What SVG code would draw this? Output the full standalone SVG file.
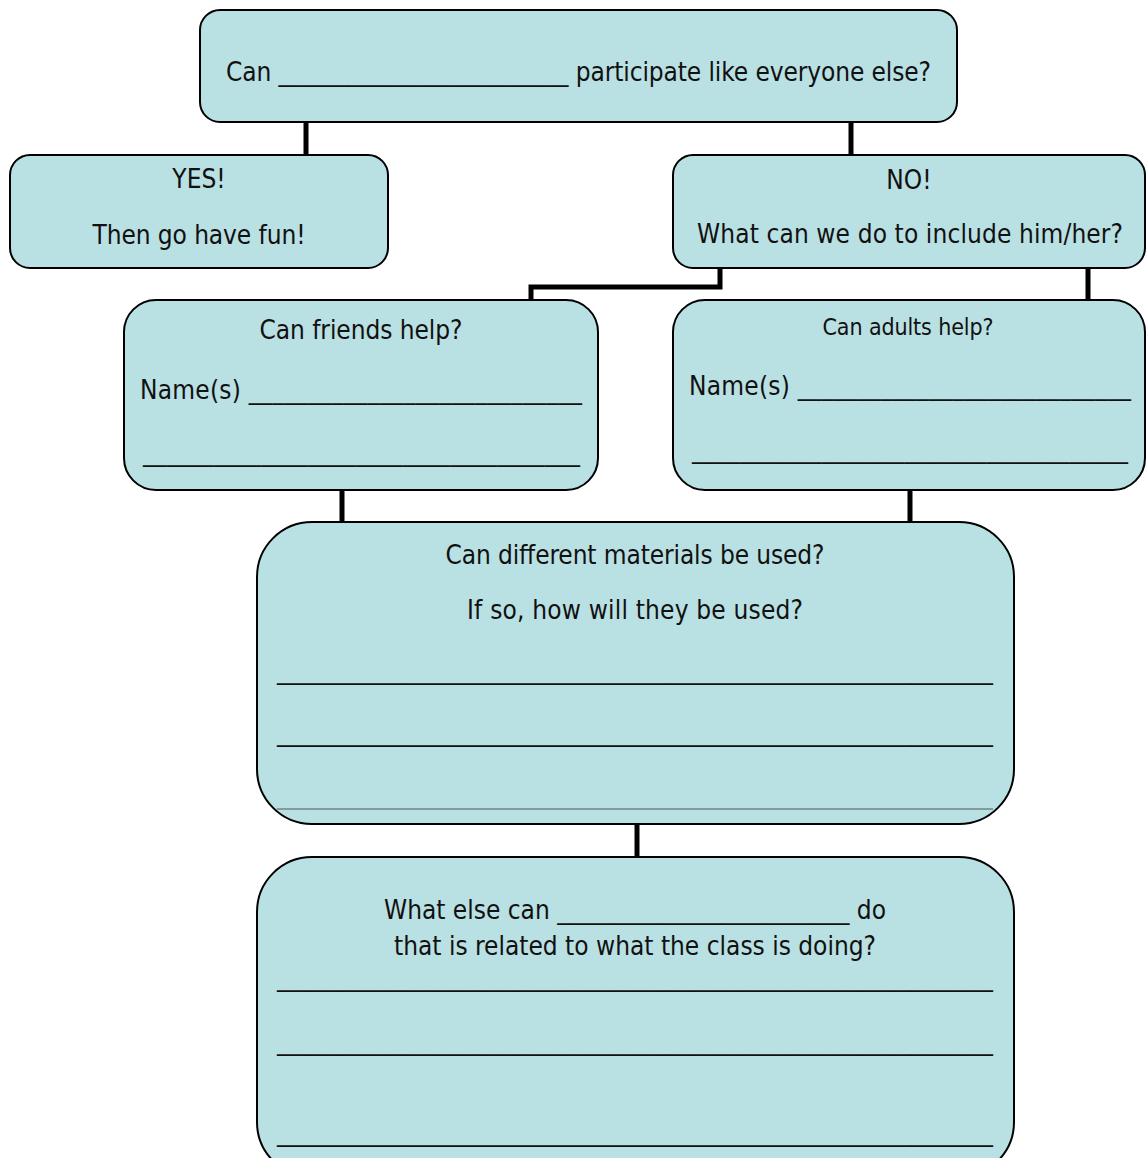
<svg xmlns="http://www.w3.org/2000/svg" width="1146" height="1158" viewBox="0 0 1146 1158">
<style>
.box{fill:#B9E0E3;stroke:#000;stroke-width:2}
.con{fill:none;stroke:#000;stroke-width:5}
text{font-family:"DejaVu Sans Condensed","DejaVu Sans",sans-serif;font-stretch:condensed;font-size:26px;fill:#111}
.c{text-anchor:middle}
.s{font-size:23px}
</style>
<rect width="1146" height="1158" fill="#fff"/>
<g id="connectors">
<path class="con" d="M306 122V155"/>
<path class="con" d="M851 122V155"/>
<path class="con" d="M720 268V287H531V300"/>
<path class="con" d="M1088 268V300"/>
<path class="con" d="M342 490V522"/>
<path class="con" d="M910 490V522"/>
<path class="con" d="M637 824V857"/>
</g>
<g id="n-top">
<rect class="box" x="200" y="10" width="757" height="112" rx="20"/>
<text x="226" y="81" textLength="705">Can _________________________ participate like everyone else?</text>
</g>
<g id="n-yes">
<rect class="box" x="10" y="155" width="378" height="113" rx="20"/>
<text class="c" x="199" y="188">YES!</text>
<text class="c" x="199" y="244" textLength="213">Then go have fun!</text>
</g>
<g id="n-no">
<rect class="box" x="673" y="155" width="472" height="113" rx="20"/>
<text class="c" x="909" y="189">NO!</text>
<text class="c" x="910" y="243" textLength="426">What can we do to include him/her?</text>
</g>
<g id="n-friends">
<rect class="box" x="124" y="300" width="474" height="190" rx="32"/>
<text class="c" x="361" y="339" textLength="203">Can friends help?</text>
<text x="140" y="399" textLength="442">Name(s) ____________________________</text>
<text x="143" y="461" textLength="437">_____________________________________</text>
</g>
<g id="n-adults">
<rect class="box" x="673" y="300" width="472" height="190" rx="32"/>
<text class="c s" x="908" y="335" textLength="171">Can adults help?</text>
<text x="689" y="395" textLength="442">Name(s) ____________________________</text>
<text x="692" y="458" textLength="436">_____________________________________</text>
</g>
<g id="n-materials">
<rect class="box" x="257" y="522" width="757" height="302" rx="55"/>
<text class="c" x="635" y="564" textLength="379">Can different materials be used?</text>
<text class="c" x="635" y="619" textLength="336">If so, how will they be used?</text>
<text x="277" y="679" textLength="716">_____________________________________________________________</text>
<text x="277" y="741" textLength="716">_____________________________________________________________</text>
<line x1="277" y1="809" x2="993" y2="809" stroke="#555" stroke-width="1"/>
</g>
<g id="n-else">
<rect class="box" x="257" y="857" width="757" height="320" rx="55"/>
<text class="c" x="635" y="919" textLength="502">What else can _________________________ do</text>
<text class="c" x="635" y="955" textLength="482">that is related to what the class is doing?</text>
<text x="277" y="986" textLength="716">_____________________________________________________________</text>
<text x="277" y="1050" textLength="716">_____________________________________________________________</text>
<text x="277" y="1141" textLength="716">_____________________________________________________________</text>
</g>
</svg>
